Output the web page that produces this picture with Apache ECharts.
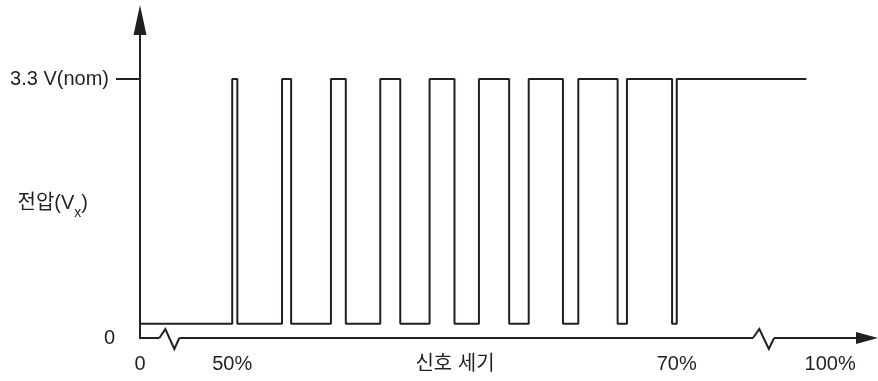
<!DOCTYPE html>
<html>
<head>
<meta charset="utf-8">
<title>신호 세기 - 전압</title>
<script src="https://cdn.jsdelivr.net/npm/echarts@6.0.0/dist/echarts.min.js"></script>
<style>
    html, body { margin: 0; padding: 0; background: #fff; }
    #chart { width: 878px; height: 381px; }
</style>
</head>
<body>
<div id="chart"></div>
<script>
// Signal strength (%) where the output switches high / low
const riseAt = [50, 52.24, 54.44, 56.66, 58.88, 61.10, 63.34, 65.57, 67.76, 70.0];
const fallAt = [50.23, 52.65, 55.11, 57.56, 60.0, 62.46, 64.88, 67.34, 69.79];
const signalStart = 45.85;
const signalEnd = 75.83;
const vHigh = 3.3;
const vLow = 0.18;

// Axis labels
const xTickValues = [45.85, 50, 70, 76.9];
const xTickLabels = ['0', '50%', '70%', '100%'];
const yTickValues = [0, 3.3];
const yTickLabels = ['0', '3.3 V(nom)'];
const xAxisName = '신호 세기';
const yAxisName = '전압(V{sub|x})';

// Broken-axis marks on the x axis (start, end)
const axisBreaks = [[46.72, 47.62], [73.43, 74.38]];

const INK = '#231f20';
const FONT = "'Liberation Sans', 'Noto Sans CJK KR', sans-serif";

/**
 * Build the step line from the edge lists
 */
function buildSignal() {
    const pts = [[signalStart, vLow]];
    riseAt.forEach((r, i) => {
        pts.push([r, vLow], [r, vHigh]);
        if (i < fallAt.length) {
            pts.push([fallAt[i], vHigh], [fallAt[i], vLow]);
        }
    });
    pts.push([signalEnd, vHigh]);
    return pts;
}

const chart = echarts.init(document.getElementById('chart'));

chart.setOption({
    animation: false,
    backgroundColor: '#fff',
    textStyle: { fontFamily: FONT },
    grid: { left: 140, right: 11, top: 20, bottom: 43, outerBoundsMode: 'none' },
    xAxis: {
        type: 'value',
        min: 45.85,
        max: 78.56,
        name: xAxisName,
        nameLocation: 'middle',
        nameMoveOverlap: false,
        nameGap: 16,
        nameTextStyle: {
            color: INK, fontSize: 20, fontFamily: FONT,
            verticalAlign: 'top',
            padding: [0, 97, 0, 0]
        },
        axisLine: {
            lineStyle: { color: INK, width: 2 },
            symbol: ['none', 'triangle'],
            symbolSize: [12, 22]
        },
        axisTick: { show: false },
        splitLine: { show: false },
        axisLabel: {
            customValues: xTickValues,
            color: INK,
            fontSize: 20,
            margin: 16,
            formatter: (v) => xTickLabels[xTickValues.indexOf(v)]
        }
    },
    yAxis: {
        type: 'value',
        min: 0,
        max: 4.052,
        name: yAxisName,
        nameLocation: 'middle',
        nameMoveOverlap: false,
        nameRotate: 0,
        nameGap: 52,
        nameTextStyle: {
            color: INK, fontSize: 20, fontFamily: FONT,
            align: 'right',
            verticalAlign: 'middle',
            padding: [48, 0, 0, 0],
            rich: { sub: { fontSize: 14, lineHeight: 14, padding: [20, 0, 0, 0] } }
        },
        axisLine: {
            lineStyle: { color: INK, width: 2 },
            symbol: ['none', 'triangle'],
            symbolSize: [13, 30]
        },
        axisTick: {
            customValues: [vHigh],
            length: 24,
            lineStyle: { color: INK, width: 2 }
        },
        splitLine: { show: false },
        axisLabel: {
            customValues: yTickValues,
            color: INK,
            fontSize: 20,
            margin: 25,
            formatter: (v) => {
                const t = yTickLabels[yTickValues.indexOf(v)];
                return v === 0 ? t : '{p|' + t + '}';
            },
            rich: { p: { fontSize: 20, padding: [0, 6, 0, 0] } }
        }
    },
    series: [
        {
            type: 'line',
            data: buildSignal(),
            symbol: 'none',
            lineStyle: { color: INK, width: 2 },
            silent: true
        },
        {
            type: 'custom',
            data: axisBreaks,
            silent: true,
            z: 5,
            renderItem(params, api) {
                const p0 = api.coord([api.value(0), 0]);
                const p1 = api.coord([api.value(1), 0]);
                const w = p1[0] - p0[0];
                return {
                    type: 'group',
                    children: [
                        {
                            type: 'rect',
                            shape: { x: p0[0], y: p0[1] - 3, width: w, height: 6 },
                            style: { fill: '#fff' }
                        },
                        {
                            type: 'polyline',
                            shape: {
                                points: [
                                    [p0[0], p0[1]],
                                    [p0[0] + w * 0.3, p0[1] - 9],
                                    [p0[0] + w * 0.75, p0[1] + 11],
                                    [p1[0], p1[1]]
                                ]
                            },
                            style: { stroke: INK, lineWidth: 2, fill: null }
                        }
                    ]
                };
            }
        }
    ]
});
</script>
</body>
</html>
